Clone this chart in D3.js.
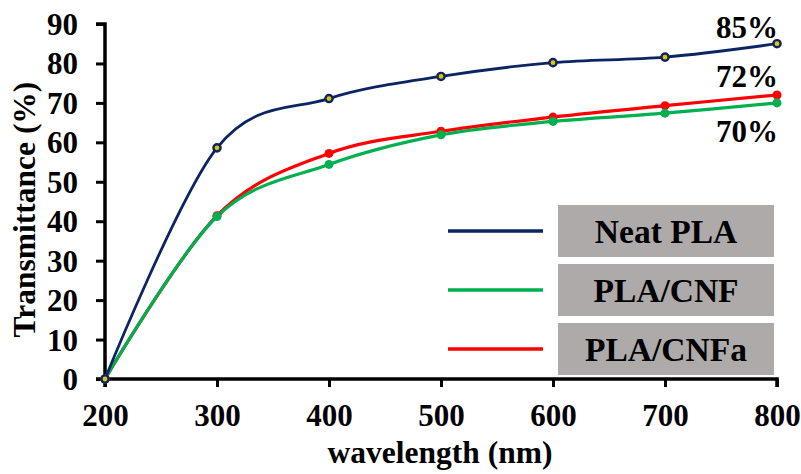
<!DOCTYPE html>
<html>
<head>
<meta charset="utf-8">
<script src="https://cdn.jsdelivr.net/npm/d3@7"></script>
<style>
  html, body { margin: 0; padding: 0; background: #fff; }
  svg { display: block; }
</style>
</head>
<body>
<svg id="chart" width="801" height="474"></svg>
<script>
// Wavelength (nm) sampled for each film
const wavelengths = [200, 300, 400, 500, 600, 700, 800];

// Transmittance (%) per film
const neatPLA  = [0, 58.6, 71.1, 76.7, 80.2, 81.6, 85];
const plaCNF   = [0, 41.2, 54.4, 61.9, 65.3, 67.4, 70];
const plaCNFa  = [0, 41.4, 57.2, 62.8, 66.4, 69.3, 72];

const seriesNames  = ["Neat PLA", "PLA/CNF", "PLA/CNFa"];
const seriesColors = ["#0b2462", "#00b050", "#ff0000"];

const xTicks = [200, 300, 400, 500, 600, 700, 800];
const yTicks = [0, 10, 20, 30, 40, 50, 60, 70, 80, 90];

const FONT = "'Liberation Serif', 'Times New Roman', serif";

const series = [
  { name: seriesNames[0], values: neatPLA, color: seriesColors[0], hollow: true },
  { name: seriesNames[1], values: plaCNF,  color: seriesColors[1], hollow: false },
  { name: seriesNames[2], values: plaCNFa, color: seriesColors[2], hollow: false }
];

const svg = d3.select("#chart");

function label(sel, size) {
  return sel.style("font-family", FONT).style("font-weight", "bold")
    .style("font-size", size + "px").attr("fill", "#000");
}

const x = d3.scaleLinear().domain([200, 800]).range([105, 777]);
const y = d3.scaleLinear().domain([0, 90]).range([379, 24]);

// Axes
const xAxis = d3.axisBottom(x).tickValues(xTicks).tickSize(8).tickPadding(6).tickFormat(d3.format("d"));
const yAxis = d3.axisLeft(y).tickValues(yTicks).tickSize(9).tickPadding(18).tickFormat(d3.format("d"));

const gx = svg.append("g").attr("transform", `translate(0,${y(0)})`).call(xAxis);
const gy = svg.append("g").attr("transform", `translate(${x(200)},0)`).call(yAxis);

[gx, gy].forEach(g => {
  g.select(".domain").attr("stroke", "#000").attr("stroke-width", 3.5);
  g.selectAll(".tick line").attr("stroke", "#000").attr("stroke-width", 3);
  label(g.selectAll(".tick text"), 31);
});
gx.select(".domain").attr("d", `M${x(200)},8V0H${x(800)}V8`);
gy.select(".domain").attr("d", `M-9,${y(90)}H0V${y(0)}H-9`);
gx.selectAll(".tick text").attr("dy", "1.07em");
gy.selectAll(".tick text").attr("dy", "0.34em");

// Axis titles
label(svg.append("text"), 31.5)
  .attr("x", 440)
  .attr("y", 463)
  .attr("text-anchor", "middle")
  .text("wavelength (nm)");

label(svg.append("text"), 31.5)
  .attr("transform", `translate(35,${(y(0) + y(90)) / 2 + 8}) rotate(-90)`)
  .attr("text-anchor", "middle")
  .text("Transmittance (%)");

// Smoothed curves
const line = d3.line()
  .x((d, i) => x(wavelengths[i]))
  .y(d => y(d))
  .curve(d3.curveCardinal.tension(0));

const drawOrder = [series[2], series[1], series[0]];

drawOrder.forEach(s => {
  svg.append("path")
    .datum(s.values)
    .attr("fill", "none")
    .attr("stroke", s.color)
    .attr("stroke-width", s.hollow ? 2.8 : 3.2)
    .attr("d", line);
});

drawOrder.forEach(s => {
  const g = svg.append("g");
  g.selectAll("circle")
    .data(s.values)
    .join("circle")
    .attr("cx", (d, i) => x(wavelengths[i]))
    .attr("cy", d => y(d))
    .attr("r", s.hollow ? 3.6 : 4.5)
    .attr("fill", s.hollow ? "#e2c400" : s.color)
    .attr("stroke", s.color)
    .attr("stroke-width", s.hollow ? 2.4 : 0);
});

// End-point value labels
const endLabels = [
  { s: series[0], dy: -6 },
  { s: series[2], dy: -8 },
  { s: series[1], dy: 39 }
];
endLabels.forEach(l => {
  const v = l.s.values[l.s.values.length - 1];
  label(svg.append("text"), 31)
    .attr("x", 778)
    .attr("y", y(v) + l.dy)
    .attr("text-anchor", "end")
    .text(v + "%");
});

// Legend
const legendRows = [231, 290, 349];
series.forEach((s, i) => {
  const cy = legendRows[i];
  svg.append("line")
    .attr("x1", 448).attr("x2", 543)
    .attr("y1", cy).attr("y2", cy)
    .attr("stroke", s.color)
    .attr("stroke-width", 3.5);
  svg.append("rect")
    .attr("x", 558).attr("y", cy - 26)
    .attr("width", 216).attr("height", 52)
    .attr("fill", "#aeaaaa");
  label(svg.append("text"), 33.5)
    .attr("x", 666).attr("y", cy + 11.5)
    .attr("text-anchor", "middle")
    .text(s.name);
});
</script>
</body>
</html>
